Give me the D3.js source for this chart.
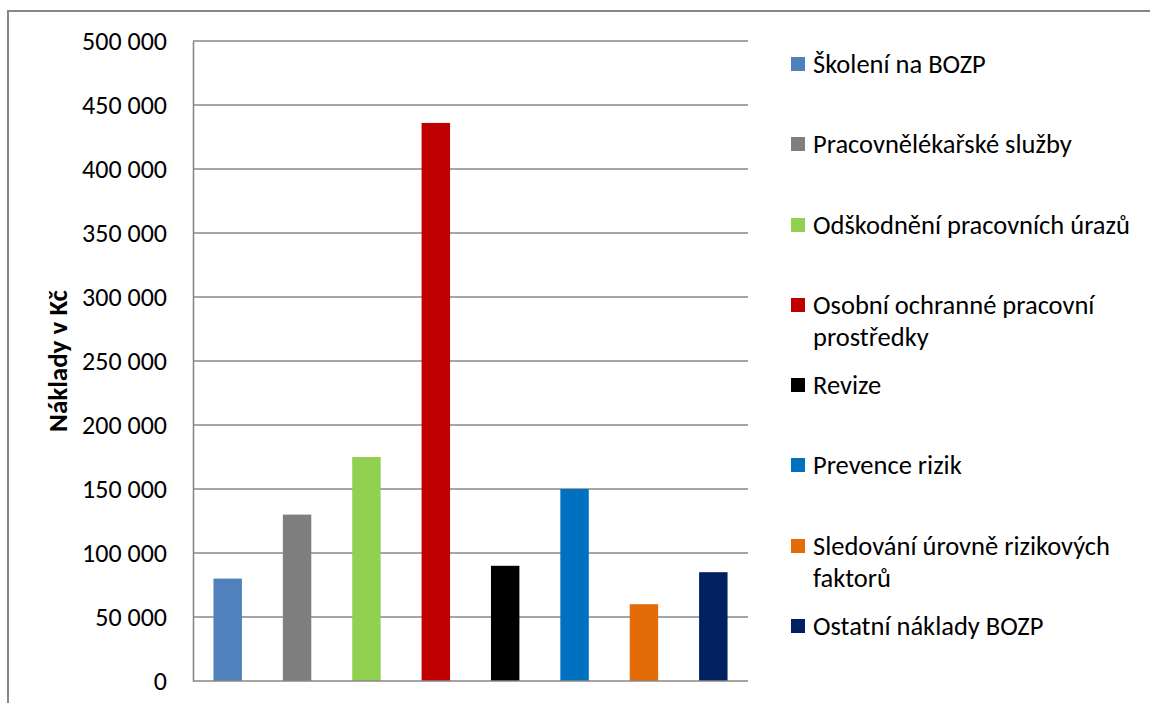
<!DOCTYPE html>
<html lang="cs">
<head>
<meta charset="UTF-8">
<title>Náklady BOZP</title>
<script src="https://d3js.org/d3.v7.min.js"></script>
<style>
  body { margin: 0; background: #fff; }
  svg text { font-family: Carlito, Lato, "Liberation Sans", sans-serif; fill: #000; }
</style>
</head>
<body>
<svg id="chart" width="1150" height="703"></svg>
<script>
// data
const categories = ["Školení na BOZP", "Pracovnělékařské služby", "Odškodnění pracovních úrazů",
  "Osobní ochranné pracovní prostředky", "Revize", "Prevence rizik",
  "Sledování úrovně rizikových faktorů", "Ostatní náklady BOZP"];
const values = [80000, 130000, 175000, 436000, 90000, 150000, 60000, 85000];
const colors = ["#4f81bd", "#7f7f7f", "#92d050", "#c00000", "#000000", "#0070c0", "#e36c09", "#002060"];
const legendLines = [["Školení na BOZP"], ["Pracovnělékařské služby"], ["Odškodnění pracovních úrazů"],
  ["Osobní ochranné pracovní", "prostředky"], ["Revize"], ["Prevence rizik"],
  ["Sledování úrovně rizikových", "faktorů"], ["Ostatní náklady BOZP"]];
const yTicks = [0, 50000, 100000, 150000, 200000, 250000, 300000, 350000, 400000, 450000, 500000];

const svg = d3.select("#chart");
const grey = "#878787";

// outer chart frame (runs off the right and bottom edges)
svg.append("path")
  .attr("d", "M8,712V11H1160")
  .attr("fill", "none").attr("stroke", grey).attr("stroke-width", 2);

const x = d3.scaleBand().domain(categories).range([193, 748]).paddingInner(0.59).paddingOuter(0.295);
const y = d3.scaleLinear().domain([0, 500000]).range([681, 41]);

const fmt = v => d3.format(",")(v).replace(/,/g, " ");

// gridlines
svg.append("g").selectAll("line").data(yTicks.slice(1)).join("line")
  .attr("x1", 193).attr("x2", 748)
  .attr("y1", d => y(d)).attr("y2", d => y(d))
  .attr("stroke", grey).attr("stroke-width", 1.6);

// bars
svg.append("g").selectAll("rect").data(values).join("rect")
  .attr("x", (d, i) => x(categories[i]))
  .attr("width", x.bandwidth())
  .attr("y", d => y(d))
  .attr("height", d => y(0) - y(d))
  .attr("fill", (d, i) => colors[i]);

// y axis
const yAxis = svg.append("g").attr("transform", "translate(193,0)")
  .call(d3.axisLeft(y).tickValues(yTicks).tickFormat(fmt).tickSize(0).tickPadding(26));
yAxis.select(".domain").attr("stroke", grey).attr("stroke-width", 1.6);
yAxis.selectAll("text").attr("font-size", 26).attr("font-family", "Carlito, Lato, 'Liberation Sans', sans-serif");

// x axis baseline
svg.append("line").attr("x1", 193).attr("x2", 748).attr("y1", y(0)).attr("y2", y(0))
  .attr("stroke", grey).attr("stroke-width", 1.6);

// axis title
svg.append("text")
  .attr("transform", "translate(67,361) rotate(-90)")
  .attr("text-anchor", "middle")
  .attr("font-size", 27).attr("font-weight", "bold")
  .text("Náklady v Kč");

// legend
const legendY = [64, 144, 225, 305, 385, 465, 546, 626];
const lg = svg.append("g").selectAll("g").data(legendLines).join("g")
  .attr("transform", (d, i) => `translate(791,${legendY[i]})`);
lg.append("rect").attr("x", 0).attr("y", -7).attr("width", 14).attr("height", 14)
  .attr("fill", (d, i) => colors[i]);
lg.each(function(lines) {
  d3.select(this).selectAll("text").data(lines).join("text")
    .attr("x", 22).attr("y", (t, j) => j * 32)
    .attr("dy", "0.35em")
    .attr("font-size", 26.5)
    .text(t => t);
});
</script>
</body>
</html>
